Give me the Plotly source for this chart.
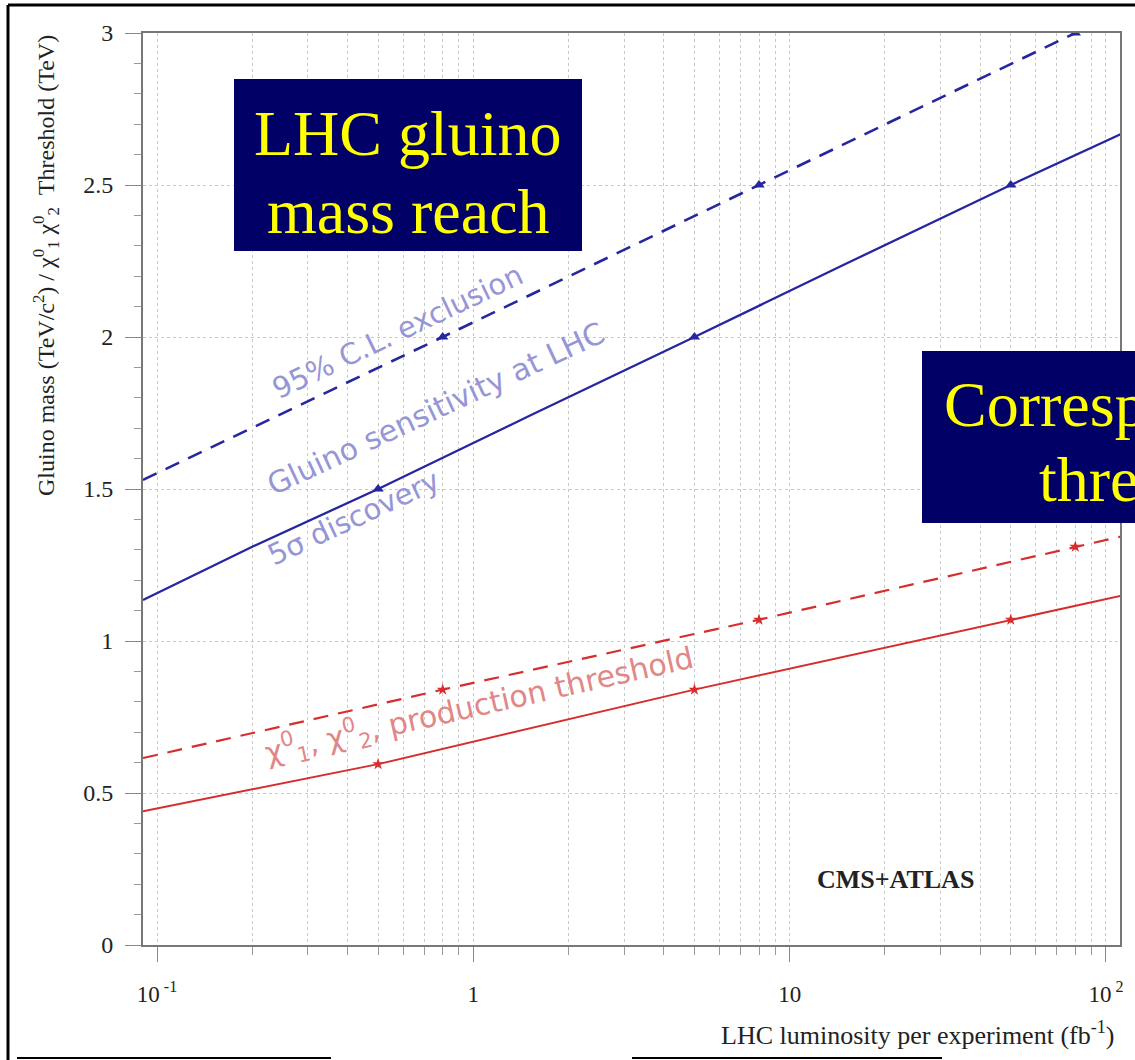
import plotly.graph_objects as go

# ---------------- data ----------------
lumi_excl = [0.0903, 0.8, 8, 80]
mass_excl = [1.53, 2.0, 2.5, 3.0]
lumi_excl_mk = [0.8, 8, 80]
mass_excl_mk = [2.0, 2.5, 3.0]

lumi_disc = [0.0903, 0.2, 0.5, 1.5, 5, 15, 50, 113]
mass_disc = [1.135, 1.31, 1.5, 1.74, 2.0, 2.24, 2.5, 2.67]
lumi_disc_mk = [0.5, 5, 50]
mass_disc_mk = [1.5, 2.0, 2.5]

lumi_thr_excl = [0.0903, 0.8, 8, 80, 113]
thr_excl = [0.615, 0.84, 1.07, 1.31, 1.345]
lumi_thr_excl_mk = [0.8, 8, 80]
thr_excl_mk = [0.84, 1.07, 1.31]

lumi_thr_disc = [0.0903, 0.5, 5, 50, 113]
thr_disc = [0.44, 0.595, 0.84, 1.07, 1.15]
lumi_thr_disc_mk = [0.5, 5, 50]
thr_disc_mk = [0.595, 0.84, 1.07]

x_major = [0.1, 1, 10, 100]
x_major_text = ["10<sup> -1</sup>", "1", "10", "10<sup> 2</sup>"]
x_minor = [m * d for d in (0.01, 0.1, 1, 10) for m in range(2, 10)]

y_major = [0, 0.5, 1, 1.5, 2, 2.5, 3]
y_major_text = ["0", "0.5", "1", "1.5", "2", "2.5", "3"]

# ---------------- geometry helpers ----------------
L, R, T, B = 143, 1120, 33, 945
W, H = 1135, 1060


def px(x):
    return (x - L) / (R - L)


def py(y):
    return (B - y) / (B - T)


BLUE = "rgb(38,38,160)"
RED = "rgb(215,45,45)"
BLUE_TXT = "rgb(150,150,215)"
RED_TXT = "rgb(225,135,135)"
SERIF = "Liberation Serif, Times New Roman, serif"
SANS = "DejaVu Sans, Verdana, sans-serif"

fig = go.Figure()

fig.add_trace(go.Scatter(x=lumi_excl, y=mass_excl, mode="lines",
                         line=dict(color=BLUE, width=2.6, dash="15px,10px")))
fig.add_trace(go.Scatter(x=lumi_excl_mk, y=mass_excl_mk, mode="markers",
                         marker=dict(color=BLUE, size=10, symbol="triangle-up")))
fig.add_trace(go.Scatter(x=lumi_disc, y=mass_disc, mode="lines",
                         line=dict(color=BLUE, width=2.3)))
fig.add_trace(go.Scatter(x=lumi_disc_mk, y=mass_disc_mk, mode="markers",
                         marker=dict(color=BLUE, size=10, symbol="triangle-up")))
fig.add_trace(go.Scatter(x=lumi_thr_excl, y=thr_excl, mode="lines",
                         line=dict(color=RED, width=2.2, dash="15px,10px")))
fig.add_trace(go.Scatter(x=lumi_thr_excl_mk, y=thr_excl_mk, mode="markers",
                         marker=dict(color=RED, size=9, symbol="star")))
fig.add_trace(go.Scatter(x=lumi_thr_disc, y=thr_disc, mode="lines",
                         line=dict(color=RED, width=2)))
fig.add_trace(go.Scatter(x=lumi_thr_disc_mk, y=thr_disc_mk, mode="markers",
                         marker=dict(color=RED, size=9, symbol="star")))

GRID = "rgb(200,200,200)"
fig.update_xaxes(type="log", range=[-1.0443, 2.0443],
                 tickvals=x_major, ticktext=x_major_text,
                 ticks="outside", ticklen=15, tickcolor="#888", tickwidth=1,
                 showline=True, linecolor="#777", linewidth=2, mirror=True,
                 showgrid=True, gridcolor=GRID, griddash="dot", gridwidth=1,
                 minor=dict(tickvals=x_minor, ticks="outside", ticklen=8,
                            tickcolor="#999", showgrid=True, gridcolor=GRID,
                            griddash="dot"),
                 tickfont=dict(family=SERIF, size=23, color="#222"),
                 ticklabelstandoff=12, zeroline=False)
fig.update_yaxes(range=[0, 3], tickvals=y_major, ticktext=y_major_text,
                 ticks="outside", ticklen=16, tickcolor="#888",
                 showline=True, linecolor="#777", linewidth=2, mirror=True,
                 showgrid=True, gridcolor=GRID, griddash="dot", gridwidth=1,
                 minor=dict(dtick=0.1, tick0=0, ticks="outside", ticklen=7,
                            tickcolor="#999", showgrid=False),
                 tickfont=dict(family=SERIF, size=24, color="#222"),
                 ticklabelstandoff=7, zeroline=False)

shapes = [
    # slide frame
    dict(type="line", xref="paper", yref="paper", x0=px(8), x1=px(1140), y0=py(5), y1=py(5),
         line=dict(color="black", width=3)),
    dict(type="line", xref="paper", yref="paper", x0=px(8), x1=px(8), y0=py(5), y1=py(1065),
         line=dict(color="black", width=3)),
    dict(type="line", xref="paper", yref="paper", x0=px(17), x1=px(331), y0=py(1058), y1=py(1058),
         line=dict(color="black", width=2)),
    dict(type="line", xref="paper", yref="paper", x0=px(632), x1=px(942), y0=py(1058), y1=py(1058),
         line=dict(color="black", width=2)),
    # title boxes
    dict(type="rect", xref="paper", yref="paper", x0=px(234), x1=px(582), y0=py(251), y1=py(79),
         fillcolor="#000066", line=dict(width=0), layer="above"),
    dict(type="rect", xref="paper", yref="paper", x0=px(922), x1=px(1160), y0=py(523), y1=py(351),
         fillcolor="#000066", line=dict(width=0), layer="above"),
]

ann = []


def A(text, x, y, size, color, family, angle=0, xanchor="center"):
    ann.append(dict(text=text, x=px(x), y=py(y), xref="paper", yref="paper",
                    showarrow=False, textangle=angle, xanchor=xanchor, yanchor="middle",
                    borderpad=0,
                    font=dict(size=size, color=color, family=family)))


A("LHC gluino", 408, 133, 64, "#ffff00", SERIF)
A("mass reach", 408, 211, 64, "#ffff00", SERIF)
A("Corresponding", 943, 404, 64, "#ffff00", SERIF, xanchor="left")
A("threshold", 1038, 479, 64, "#ffff00", SERIF, xanchor="left")

A("95% C.L. exclusion", 397, 332, 29, BLUE_TXT, SANS, angle=-25.5)
A("Gluino sensitivity at LHC", 436, 409, 30, BLUE_TXT, SANS, angle=-25)
A("5σ discovery", 353, 518, 29, BLUE_TXT, SANS, angle=-25)
A("χ<sup>0</sup><sub>1</sub>, χ<sup>0</sup><sub>2</sub>, production threshold", 479, 705, 30,
  RED_TXT, SANS, angle=-12.7)

A("<b>CMS+ATLAS</b>", 895, 879, 26, "#222", SERIF)

A("Gluino mass (TeV/c<sup>2</sup>) / χ<sup>0</sup><sub>1</sub> χ<sup>0</sup><sub>2</sub>  Threshold (TeV)",
  46, 266, 24, "#222", SERIF, angle=-90)
A("LHC luminosity per experiment (fb<sup>-1</sup>)", 918, 1033, 26, "#222", SERIF)

fig.update_layout(width=W, height=H, margin=dict(l=L, r=W - R, t=T, b=H - B),
                  paper_bgcolor="white", plot_bgcolor="white", showlegend=False,
                  shapes=shapes, annotations=ann)

fig.write_html("out.html")
